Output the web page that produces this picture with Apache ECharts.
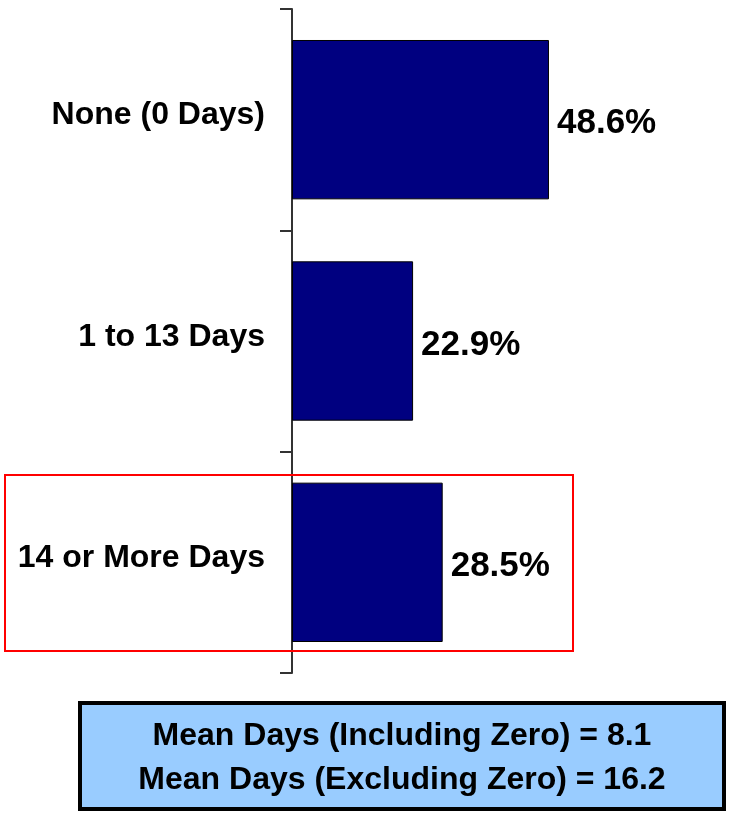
<!DOCTYPE html>
<html>
<head>
<meta charset="utf-8">
<script src="https://cdn.jsdelivr.net/npm/echarts@6/dist/echarts.min.js"></script>
<style>html,body{margin:0;padding:0;background:#fff}#c{width:730px;height:813px}</style>
</head>
<body>
<div id="c"></div>
<script>
const categories = ['None (0 Days)', '1 to 13 Days', '14 or More Days'];
const values = [48.6, 22.9, 28.5];
const summaryLines = ['Mean Days (Including Zero) = 8.1', 'Mean Days (Excluding Zero) = 16.2'];

const FONT = '"Liberation Sans", Arial, sans-serif';
const chart = echarts.init(document.getElementById('c'), null, {renderer: 'canvas'});
chart.setOption({
  animation: false,
  grid: {left: 292, top: 9, width: 423, height: 664, containLabel: false},
  xAxis: {type: 'value', min: 0, max: 80, show: false},
  yAxis: {
    type: 'category', data: categories, inverse: true,
    axisLine: {show: true, lineStyle: {color: '#333', width: 2}},
    axisTick: {show: true, length: 12, lineStyle: {color: '#333', width: 2}},
    axisLabel: {margin: 27, formatter: v => '{a|' + v + '}',
      rich: {a: {color: '#000', fontFamily: FONT, fontWeight: 'bold', fontSize: 32, padding: [0, 0, 8, 0]}}},
    splitLine: {show: false}
  },
  series: [{
    type: 'bar', data: values, barCategoryGap: '28%',
    itemStyle: {color: '#000080', borderColor: '#000', borderWidth: 1},
    label: {show: true, position: 'right', distance: 8,
      formatter: p => '{v|' + p.value.toFixed(1) + '%}',
      rich: {v: {color: '#000', fontFamily: FONT, fontWeight: 'bold', fontSize: 35, padding: [8, 0, 0, 0]}}}
  }],
  graphic: [
    {type: 'rect', shape: {x: 5, y: 475, width: 568, height: 176}, style: {fill: 'none', stroke: '#ff0000', lineWidth: 2}, z: 10},
    {type: 'rect', shape: {x: 80, y: 703, width: 644, height: 106}, style: {fill: '#99ccff', stroke: '#000', lineWidth: 4}, z: 10},
    {type: 'text', x: 402, y: 736, style: {text: summaryLines[0], fill: '#000', font: 'bold 32px ' + FONT, textAlign: 'center', textVerticalAlign: 'middle'}, z: 11},
    {type: 'text', x: 402, y: 780, style: {text: summaryLines[1], fill: '#000', font: 'bold 32px ' + FONT, textAlign: 'center', textVerticalAlign: 'middle'}, z: 11}
  ]
});
</script>
</body>
</html>
